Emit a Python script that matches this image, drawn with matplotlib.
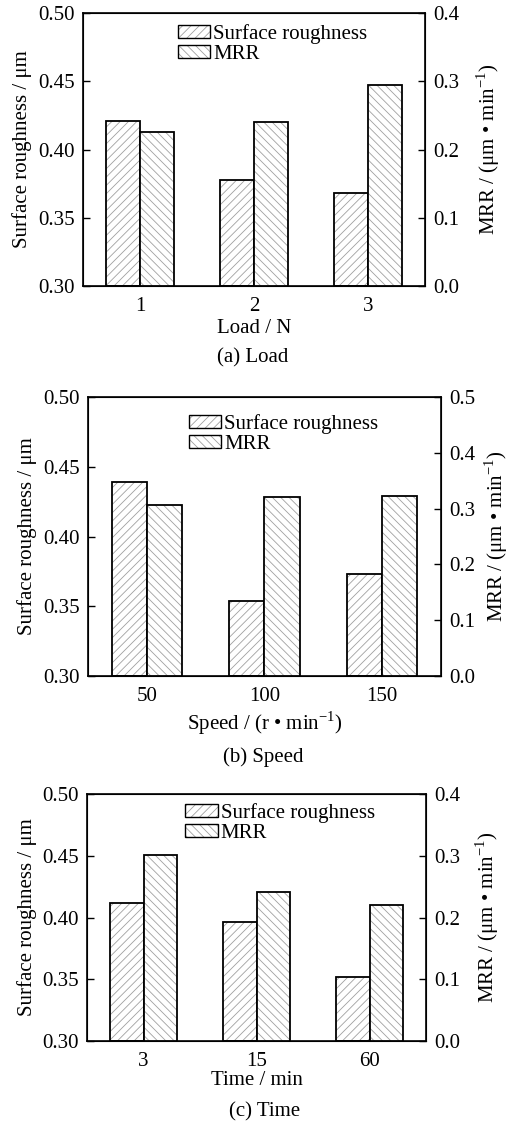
import numpy as np
import matplotlib
matplotlib.use("Agg")
import matplotlib.pyplot as plt
from matplotlib.patches import Patch
from matplotlib.legend_handler import HandlerTuple

plt.rcParams["font.family"] = ["Liberation Serif", "DejaVu Serif"]
plt.rcParams["mathtext.fontset"] = "custom"
plt.rcParams["mathtext.rm"] = "Liberation Serif"
plt.rcParams["hatch.linewidth"] = 0.6

# data
load_labels = ["1", "2", "3"]
load_sr = [0.421, 0.378, 0.368]
load_mrr = [0.226, 0.240, 0.295]

speed_labels = ["50", "100", "150"]
speed_sr = [0.439, 0.354, 0.373]
speed_mrr = [0.306, 0.321, 0.323]

time_labels = ["3", "15", "60"]
time_sr = [0.412, 0.396, 0.352]
time_mrr = [0.302, 0.241, 0.220]

HATCH_GREY = "#a0a0a0"
FS = 15


def _bars(ax, x, h, bottom, hatch):
    # grey hatch first, black outline on top
    ax.bar(x, np.asarray(h) - bottom, 0.3, bottom=bottom, color="white",
           edgecolor=HATCH_GREY, linewidth=0, hatch=hatch)
    ax.bar(x, np.asarray(h) - bottom, 0.3, bottom=bottom, fill=False,
           edgecolor="black", linewidth=1.3)


def panel(rect, labels, sr, mrr, mrr_max, xlabel, caption, cap_xy, leg_xy,
          labelpad=2, rpad=8):
    ax = fig.add_axes(rect)
    x = np.arange(len(labels))
    _bars(ax, x - 0.15, sr, 0.30, "////")
    ax.set_ylim(0.30, 0.50)
    ax.set_xlim(-0.5, 2.5)
    ax.set_yticks([0.30, 0.35, 0.40, 0.45, 0.50])
    ax.set_yticklabels(["0.30", "0.35", "0.40", "0.45", "0.50"])
    ax.set_xticks(x)
    ax.set_xticklabels(labels)
    ax.tick_params(axis="y", direction="in", length=5, width=1, labelsize=FS, pad=6)
    ax.tick_params(axis="x", length=0, labelsize=FS, pad=8)
    ax.set_ylabel("Surface roughness / μm", fontsize=FS, labelpad=4)
    ax.set_xlabel(xlabel, fontsize=FS, labelpad=labelpad)
    for s in ax.spines.values():
        s.set_linewidth(1.2)

    ax2 = ax.twinx()
    _bars(ax2, x + 0.15, mrr, 0.0, "\\\\\\\\")
    ax2.set_ylim(0.0, mrr_max)
    ticks = np.round(np.arange(0, mrr_max + 0.001, 0.1), 1)
    ax2.set_yticks(ticks)
    ax2.set_yticklabels([f"{t:.1f}" for t in ticks])
    ax2.tick_params(axis="y", direction="in", length=5, width=1, labelsize=FS, pad=6)
    ax2.set_ylabel("MRR / (μm • min$^{-1}$)", fontsize=FS, labelpad=rpad)

    h_sr = (Patch(facecolor="white", edgecolor=HATCH_GREY, hatch="////", linewidth=0),
            Patch(fill=False, edgecolor="black", linewidth=1.0))
    h_mrr = (Patch(facecolor="white", edgecolor=HATCH_GREY, hatch="\\\\\\\\", linewidth=0),
             Patch(fill=False, edgecolor="black", linewidth=1.0))
    ax2.legend([h_sr, h_mrr], ["Surface roughness", "MRR"],
               handler_map={tuple: HandlerTuple(ndivide=1, pad=0)},
               loc="upper left", bbox_to_anchor=leg_xy, frameon=False,
               fontsize=FS, handlelength=1.55, handleheight=0.6,
               handletextpad=0.15, labelspacing=0.05, borderpad=0,
               borderaxespad=0)
    fig.text(cap_xy[0], cap_xy[1], caption, fontsize=FS, ha="center", va="center")
    return ax


fig = plt.figure(figsize=(5.11, 11.23), dpi=100)

panel([0.1624, 0.7453, 0.669, 0.2431], load_labels, load_sr, load_mrr, 0.4,
      "Load / N", "(a) Load", (253 / 511, 1 - 358 / 1123), (0.278, 0.96),
      rpad=11)
panel([0.1722, 0.398, 0.6908, 0.2484], speed_labels, speed_sr, speed_mrr, 0.5,
      "Speed / (r • min$^{-1}$)", "(b) Speed", (263 / 511, 1 - 757 / 1123),
      (0.286, 0.94), rpad=5)
panel([0.1703, 0.0730, 0.6634, 0.2199], time_labels, time_sr, time_mrr, 0.4,
      "Time / min", "(c) Time", (265 / 511, 1 - 1112 / 1123), (0.29, 0.963),
      labelpad=0, rpad=9)

fig.savefig("out.png", dpi=100)
